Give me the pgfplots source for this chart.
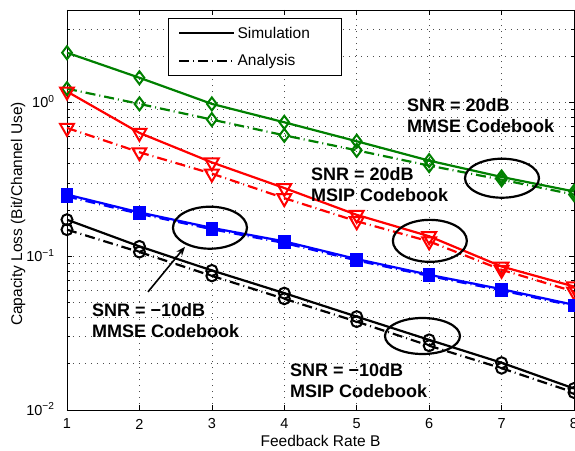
\documentclass[border=0pt]{standalone}
\usepackage{fontspec}
\setmainfont{Liberation Sans}
\usepackage{pgfplots}
\pgfplotsset{compat=1.18}
\usetikzlibrary{arrows.meta}
\definecolor{mgreen}{RGB}{0,128,0}
\tikzset{ana/.style={dash pattern=on 10pt off 4pt on 1pt off 4pt}}
\begin{document}
\begin{tikzpicture}
\useasboundingbox (-67pt,-40pt) rectangle (508pt,410pt);
\begin{axis}[
  at={(0pt,0pt)}, anchor=south west,
  scale only axis, width=507pt, height=400pt,
  ymode=log, xmin=1, xmax=8, ymin=0.01, ymax=4,
  xtick={1,2,3,4,5,6,7,8},
  ytick={0.01,0.1,1},
  yticklabels={10\textsuperscript{−2},10\textsuperscript{−1},10\textsuperscript{0}},
  minor ytick={0.02,0.03,0.04,0.05,0.06,0.07,0.08,0.09,0.2,0.3,0.4,0.5,0.6,0.7,0.8,0.9,2,3,4},
  /pgf/number format/assume math mode=true,
  xmajorgrids, ymajorgrids, yminorgrids,
  grid style={dash pattern=on 1pt off 5pt, line width=0.7pt, black!70},
  minor grid style={dash pattern=on 1pt off 5pt, line width=0.7pt, black!70},
  tick align=inside,
  major tick length=5pt, minor tick length=3pt,
  every tick/.style={black, line width=0.7pt},
  axis line style={line width=0.9pt},
  xticklabel style={font=\fontsize{14.5}{17}\selectfont, anchor=center, yshift=-14pt},
  yticklabel style={font=\fontsize{14.5}{17}\selectfont, anchor=base east, xshift=-9pt, yshift=-5.2pt},
  xlabel={Feedback Rate B},
  ylabel={Capacity Loss (Bit/Channel Use)},
  xlabel style={font=\fontsize{15.5}{18}\selectfont, at={(axis description cs:0.5,-0.0775)}, anchor=center},
  ylabel style={font=\fontsize{15.5}{18}\selectfont, at={(axis description cs:-0.0966,0.49)}, anchor=center},
  legend style={at={(axis description cs:0.199,0.98)}, anchor=north west, draw=black, line width=0.9pt, fill=white,
    font=\fontsize{15.5}{18}\selectfont, inner xsep=10pt, inner ysep=6.5pt, row sep=11pt},
  legend cell align=left,
  legend image code/.code={\draw[#1] (0pt,0pt) -- (55pt,0pt);},
]
\addlegendimage{black, line width=2.2pt}
\addlegendentry{Simulation\hspace*{20pt}}
\addlegendimage{black, line width=2.2pt, ana}
\addlegendentry{Analysis}

% SNR = 20 dB, MMSE codebook
\addplot[forget plot, mgreen, line width=2.2pt, mark=diamond, mark size=6.5pt, mark options={solid, line width=2pt}]
  coordinates {(1,2.11)(2,1.45)(3,0.98)(4,0.744)(5,0.56)(6,0.419)(7,0.328)(8,0.264)};
\addplot[forget plot, mgreen, line width=2.2pt, ana, mark=diamond, mark size=6.5pt, mark options={solid, line width=2pt}]
  coordinates {(1,1.23)(2,0.98)(3,0.775)(4,0.612)(5,0.489)(6,0.389)(7,0.315)(8,0.252)};
% SNR = 20 dB, MSIP codebook
\addplot[forget plot, red, line width=2.2pt, mark=triangle, mark size=8pt, mark options={solid, rotate=180, line width=2pt}]
  coordinates {(1,1.18)(2,0.635)(3,0.408)(4,0.278)(5,0.186)(6,0.135)(7,0.0858)(8,0.0636)};
\addplot[forget plot, red, line width=2.2pt, ana, mark=triangle, mark size=8pt, mark options={solid, rotate=180, line width=2pt}]
  coordinates {(1,0.684)(2,0.475)(3,0.345)(4,0.239)(5,0.169)(6,0.125)(7,0.0817)(8,0.059)};
% SNR = -10 dB, MMSE codebook
\addplot[forget plot, blue, line width=2.2pt, mark=square*, mark size=5.2pt, mark options={solid}]
  coordinates {(1,0.252)(2,0.193)(3,0.153)(4,0.125)(5,0.0959)(6,0.0758)(7,0.0611)(8,0.0483)};
\addplot[forget plot, blue, line width=2.2pt, ana, mark=square*, mark size=5.2pt, mark options={solid}]
  coordinates {(1,0.245)(2,0.189)(3,0.150)(4,0.122)(5,0.094)(6,0.0745)(7,0.060)(8,0.0475)};
% SNR = -10 dB, MSIP codebook
\addplot[forget plot, black, line width=2.2pt, mark=o, mark size=5.5pt, mark options={solid, line width=2pt}]
  coordinates {(1,0.173)(2,0.116)(3,0.0809)(4,0.0576)(5,0.0405)(6,0.0286)(7,0.0203)(8,0.0138)};
\addplot[forget plot, black, line width=2.2pt, ana, mark=o, mark size=5.5pt, mark options={solid, line width=2pt}]
  coordinates {(1,0.149)(2,0.1065)(3,0.0746)(4,0.0529)(5,0.0376)(6,0.0262)(7,0.0187)(8,0.0130)};

% annotations
\draw[line width=2.2pt] (axis cs:7.006,0.322) ellipse [x radius=37pt, y radius=19.5pt];
\draw[line width=2.2pt] (axis cs:6.01,0.126) ellipse [x radius=37pt, y radius=21pt];
\draw[line width=2.2pt] (axis cs:2.974,0.1534) ellipse [x radius=37pt, y radius=21pt];
\draw[line width=2.2pt] (axis cs:5.908,0.0303) ellipse [x radius=37.5pt, y radius=18pt];
\draw[line width=1.6pt, -{Stealth[length=9pt,width=7pt]}] (axis cs:2.118,0.0587) -- (axis cs:2.629,0.1153);

\node[anchor=west, align=left, inner sep=0pt, font=\fontsize{18}{21}\selectfont\bfseries] at (axis cs:5.694,0.823) {SNR = 20dB\\MMSE Codebook};
\node[anchor=west, align=left, inner sep=0pt, font=\fontsize{18}{21}\selectfont\bfseries] at (axis cs:4.369,0.292) {SNR = 20dB\\MSIP Codebook};
\node[anchor=west, align=left, inner sep=0pt, font=\fontsize{18}{21}\selectfont\bfseries] at (axis cs:1.345,0.038) {SNR = −10dB\\MMSE Codebook};
\node[anchor=west, align=left, inner sep=0pt, font=\fontsize{18}{21}\selectfont\bfseries] at (axis cs:4.079,0.01545) {SNR = −10dB\\MSIP Codebook};
\end{axis}
\end{tikzpicture}
\end{document}
